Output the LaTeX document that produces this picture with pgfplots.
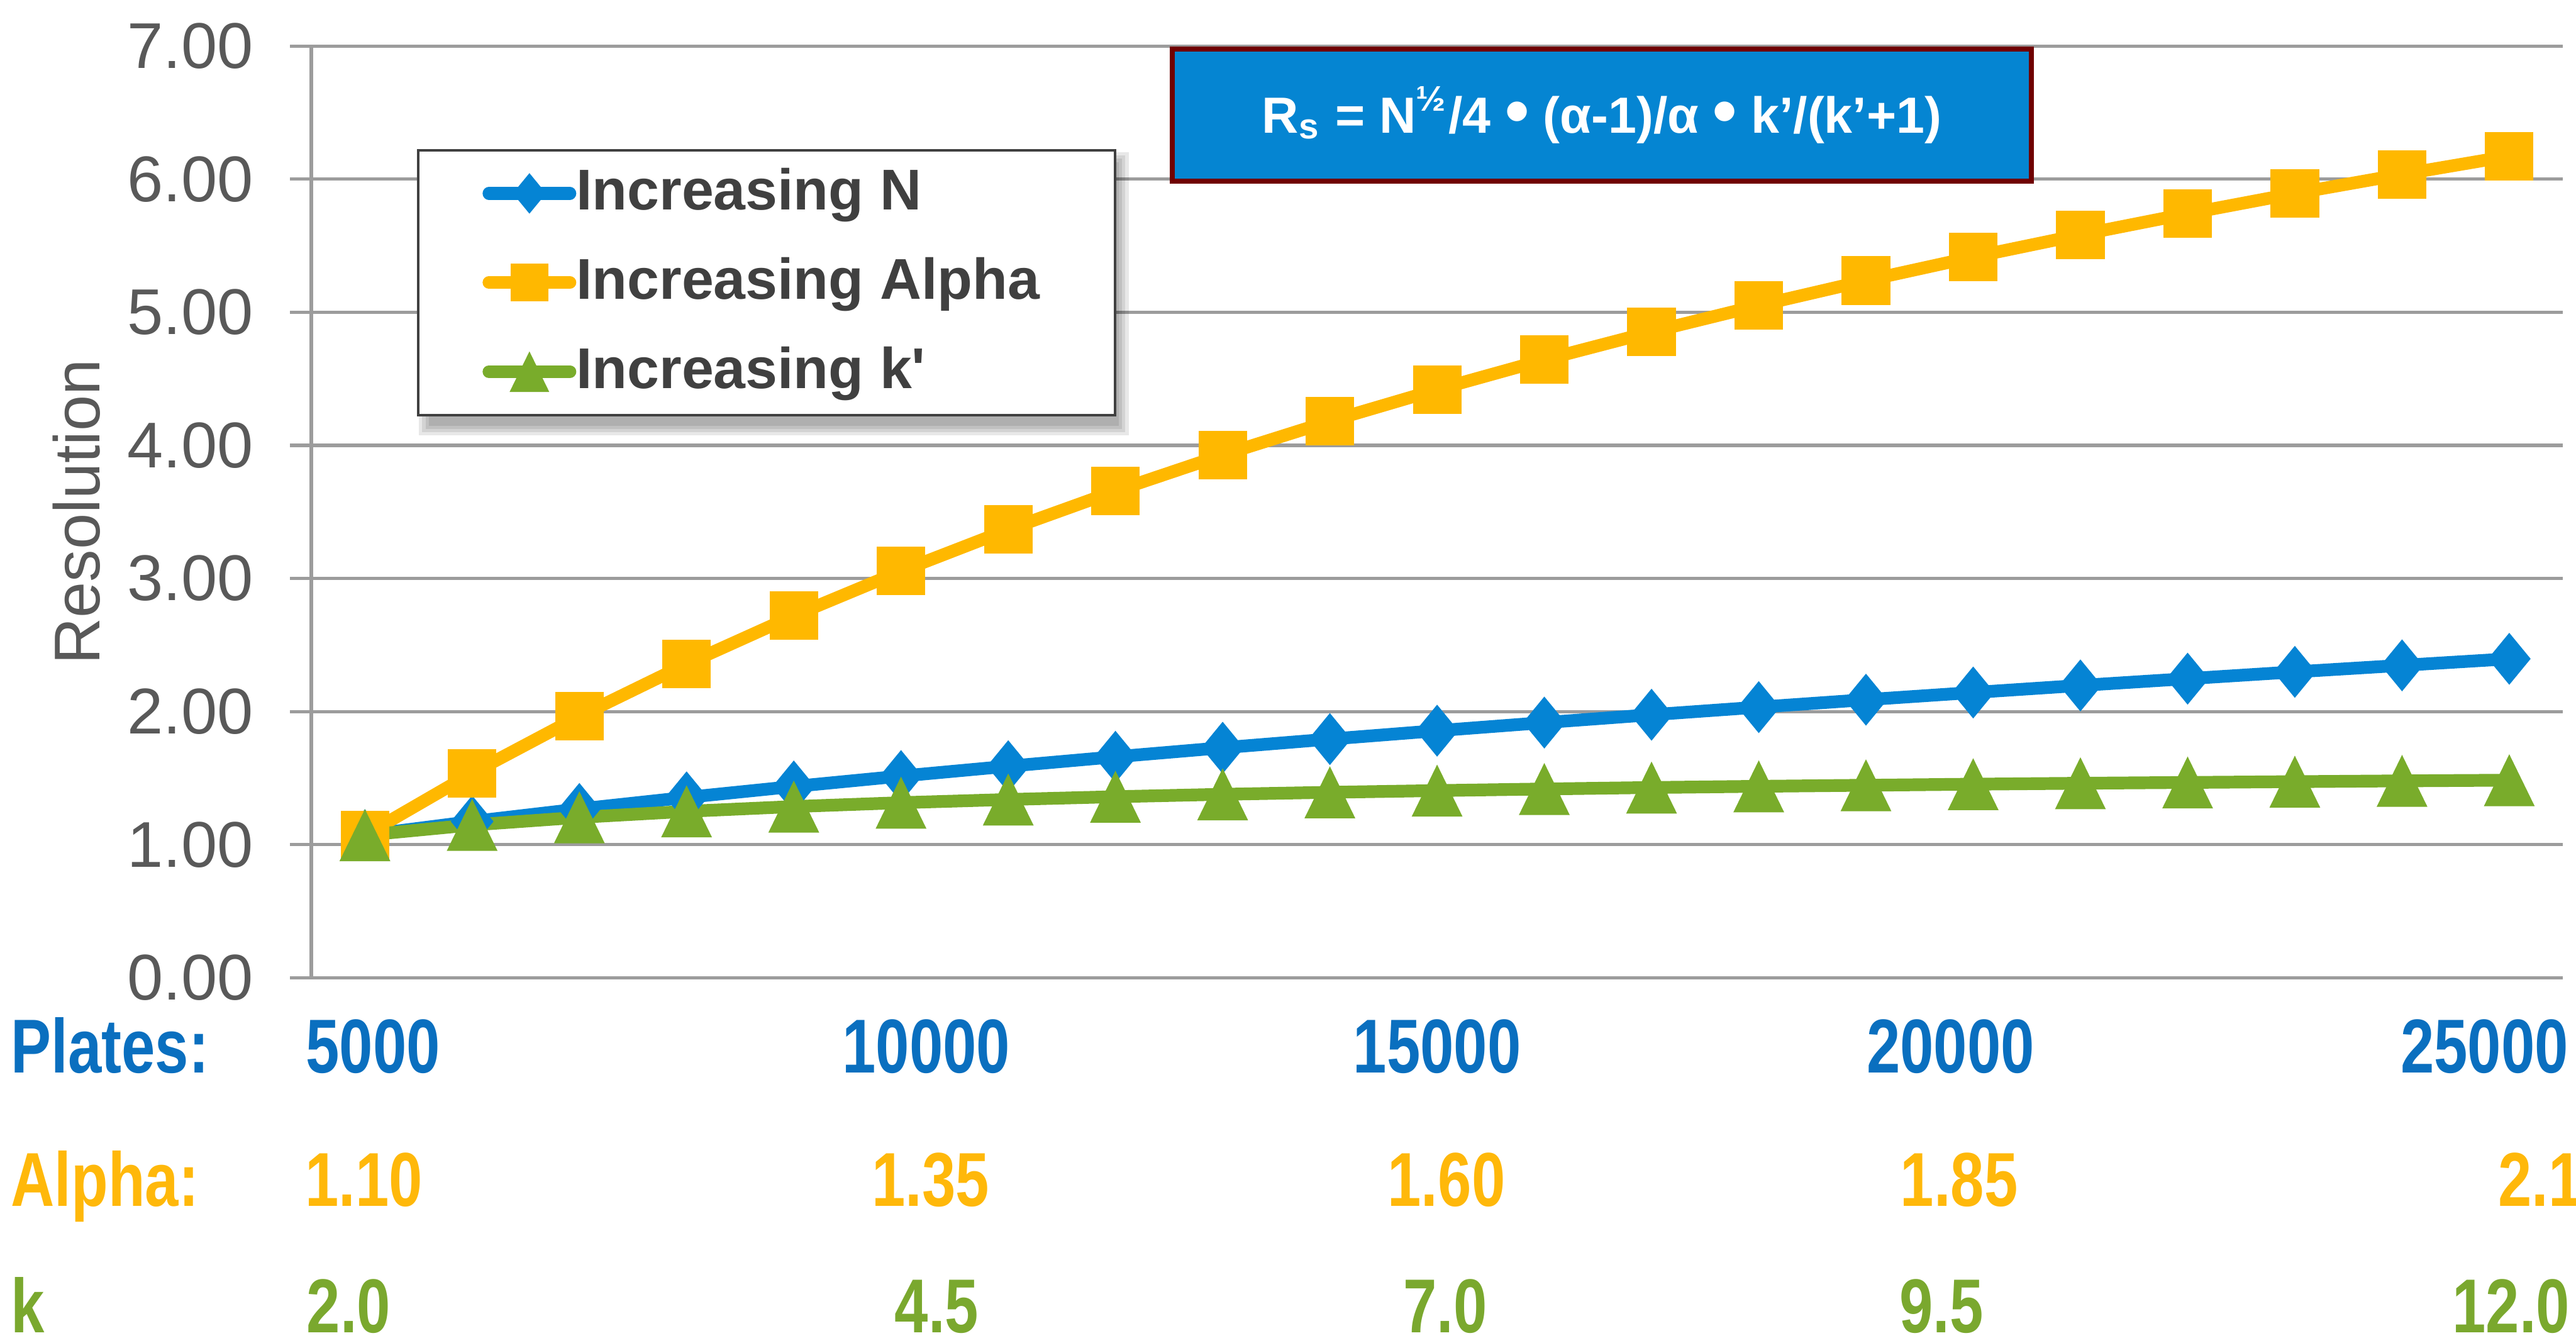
\documentclass[border=0pt]{standalone}
\usepackage{graphicx}
\usepackage{pgfplots}
\pgfplotsset{compat=1.18}
\usepackage{pgfplotstable}
\usepackage{fontspec}
\setmainfont{Liberation Sans}
\newfontfamily\narrowfont[FakeStretch=0.79]{Liberation Sans}

\definecolor{seriesblue}{HTML}{0584D4}
\definecolor{seriesorange}{HTML}{FFB800}
\definecolor{seriesgreen}{HTML}{79AC2B}
\definecolor{lblblue}{HTML}{0A6FBF}
\definecolor{lblorange}{HTML}{FFB80A}
\definecolor{lblgreen}{HTML}{7AA82E}
\definecolor{gridgray}{HTML}{9C9C9C}
\definecolor{tickgray}{HTML}{595959}
\definecolor{legendtext}{HTML}{404040}
\definecolor{legendframe}{HTML}{404040}
\definecolor{boxblue}{HTML}{0585D2}
\definecolor{boxred}{HTML}{700000}

% filled marks, centred on their bounding box
\pgfdeclareplotmark{xlsquare}{%
  \pgfpathrectangle{\pgfqpoint{-4.2pt}{-4.2pt}}{\pgfqpoint{8.4pt}{8.4pt}}%
  \pgfusepathqfill}
\pgfdeclareplotmark{xldiamond}{%
  \pgfpathmoveto{\pgfqpoint{0pt}{4.5pt}}%
  \pgfpathlineto{\pgfqpoint{3.7pt}{0pt}}%
  \pgfpathlineto{\pgfqpoint{0pt}{-4.5pt}}%
  \pgfpathlineto{\pgfqpoint{-3.7pt}{0pt}}%
  \pgfpathclose\pgfusepathqfill}
\pgfdeclareplotmark{xltriangle}{%
  \pgfpathmoveto{\pgfqpoint{0pt}{4.5pt}}%
  \pgfpathlineto{\pgfqpoint{4.4pt}{-4.5pt}}%
  \pgfpathlineto{\pgfqpoint{-4.4pt}{-4.5pt}}%
  \pgfpathclose\pgfusepathqfill}

\newcommand\labelfont{\narrowfont\bfseries\fontsize{13.23}{16}\selectfont}
\newcommand\bigdot{\raisebox{-0.03em}{\scalebox{1.35}{•}}}

% resolution vs. plates (alpha = 1.10, k' = 2.0)
\pgfplotstableread{
x res
5000 1.071
6000 1.174
7000 1.268
8000 1.355
9000 1.437
10000 1.515
11000 1.589
12000 1.660
13000 1.728
14000 1.793
15000 1.856
16000 1.917
17000 1.976
18000 2.033
19000 2.089
20000 2.143
21000 2.196
22000 2.247
23000 2.298
24000 2.347
25000 2.396
}\dataN

% resolution vs. alpha 1.10 ... 2.10 (N = 5000, k' = 2.0)
\pgfplotstableread{
x res
5000 1.071
6000 1.537
7000 1.964
8000 2.357
9000 2.720
10000 3.055
11000 3.367
12000 3.657
13000 3.928
14000 4.182
15000 4.419
16000 4.643
17000 4.853
18000 5.051
19000 5.238
20000 5.415
21000 5.582
22000 5.741
23000 5.893
24000 6.036
25000 6.173
}\dataAlpha

% resolution vs. k' 2.0 ... 12.0 (N = 5000, alpha = 1.10)
\pgfplotstableread{
x res
5000 1.071
6000 1.148
7000 1.205
8000 1.250
9000 1.286
10000 1.315
11000 1.339
12000 1.360
13000 1.378
14000 1.393
15000 1.406
16000 1.418
17000 1.429
18000 1.438
19000 1.446
20000 1.454
21000 1.461
22000 1.467
23000 1.473
24000 1.479
25000 1.484
}\dataK

\begin{document}
\begin{tikzpicture}
\useasboundingbox (-18.95mm,-22.2mm) rectangle (137.85mm,59.5mm);
\begin{axis}[
  scale only axis,
  width=137.05mm, height=56.7mm,
  xmin=4500, xmax=25500,
  ymin=0, ymax=7,
  xtick=\empty,
  ytick={0,1,2,3,4,5,6,7},
  axis x line*=bottom,
  axis y line*=left,
  axis line style={-, draw=gridgray, line width=0.57pt},
  ymajorgrids,
  grid style={draw=gridgray, line width=0.57pt},
  tick align=outside,
  major tick length=1.3mm,
  ytick style={draw=gridgray, line width=0.57pt},
  yticklabel style={font=\fontsize{11.2}{13}\selectfont, text=tickgray, xshift=-1mm,
    /pgf/number format/fixed, /pgf/number format/fixed zerofill,
    /pgf/number format/precision=2, /pgf/number format/assume math mode=true},
  ylabel={Resolution},
  ylabel style={font=\fontsize{11.2}{13}\selectfont, text=tickgray,
    at={(axis description cs:-0.10434,0.5)}, anchor=center},
  clip=false,
  legend cell align=left,
  legend style={at={(axis description cs:0.04706,0.88959)}, anchor=north west,
    draw=legendframe, line width=0.43pt, fill=white,
    font=\fontsize{9.96}{12}\selectfont\bfseries,
    nodes={inner sep=0pt, text=legendtext},
    inner xsep=3.9mm, inner ysep=1.1mm, row sep=2.36mm},
  legend image code/.code={%
    \draw[mark repeat=2, mark phase=2, line cap=round, #1,
      every mark/.append style={scale=0.78}]
      plot coordinates {(0mm,0mm) (2.465mm,0mm) (4.93mm,0mm)};},
  every axis plot/.append style={line width=2.2pt, line join=round},
]
\addplot[seriesblue, mark=xldiamond] table[x=x, y=res] {\dataN};
\addlegendentry{Increasing N}
\addplot[seriesorange, mark=xlsquare] table[x=x, y=res] {\dataAlpha};
\addlegendentry{Increasing Alpha\hspace*{0.7mm}}
\addplot[seriesgreen, mark=xltriangle] table[x=x, y=res] {\dataK};
\addlegendentry{Increasing k\textquotesingle}

% soft shadow behind the legend frame
\fill[black, opacity=0.09] (axis description cs:0.05217,0.87549) rectangle (axis description cs:0.35863,0.59259);
\fill[black, opacity=0.09] (axis description cs:0.05071,0.87901) rectangle (axis description cs:0.36009,0.58907);
\fill[black, opacity=0.09] (axis description cs:0.04925,0.88254) rectangle (axis description cs:0.36155,0.58554);
\fill[black, opacity=0.09] (axis description cs:0.04779,0.88607) rectangle (axis description cs:0.36301,0.58201);
\end{axis}

\begin{scope}[shift={(-18.95mm,59.5mm)}, x=0.1mm, y=-0.1mm]
  % equation box
  \node[fill=boxblue, draw=boxred, line width=0.3mm,
        minimum width=52.3mm, minimum height=8.02mm, inner sep=0pt,
        text=white, font=\fontsize{8.8}{11}\selectfont\bfseries]
    at (975,70) {R\textsubscript{s} = N\textsuperscript{½}/4 \bigdot{} (α-1)/α \bigdot{} k’/(k’+1)};

  % parameter rows under the axis
  \begin{scope}[every node/.style={anchor=base west, inner sep=0pt, font=\labelfont}]
    \node[text=lblblue] at (6,653) {Plates:};
    \node[text=lblblue] at (185.5,653) {5000};
    \node[text=lblblue] at (512,653) {10000};
    \node[text=lblblue] at (823,653) {15000};
    \node[text=lblblue] at (1135.5,653) {20000};
    \node[text=lblblue] at (1460.5,653) {25000};

    \node[text=lblorange] at (6,734) {Alpha:};
    \node[text=lblorange] at (185,734) {1.10};
    \node[text=lblorange] at (530,734) {1.35};
    \node[text=lblorange] at (844,734) {1.60};
    \node[text=lblorange] at (1156,734) {1.85};
    \node[text=lblorange] at (1520,734) {2.1};

    \node[text=lblgreen] at (6,811) {k};
    \node[text=lblgreen] at (186,811) {2.0};
    \node[text=lblgreen] at (544,811) {4.5};
    \node[text=lblgreen] at (853.5,811) {7.0};
    \node[text=lblgreen] at (1155.5,811) {9.5};
    \node[text=lblgreen] at (1492,811) {12.0};
  \end{scope}
\end{scope}
\end{tikzpicture}
\end{document}
